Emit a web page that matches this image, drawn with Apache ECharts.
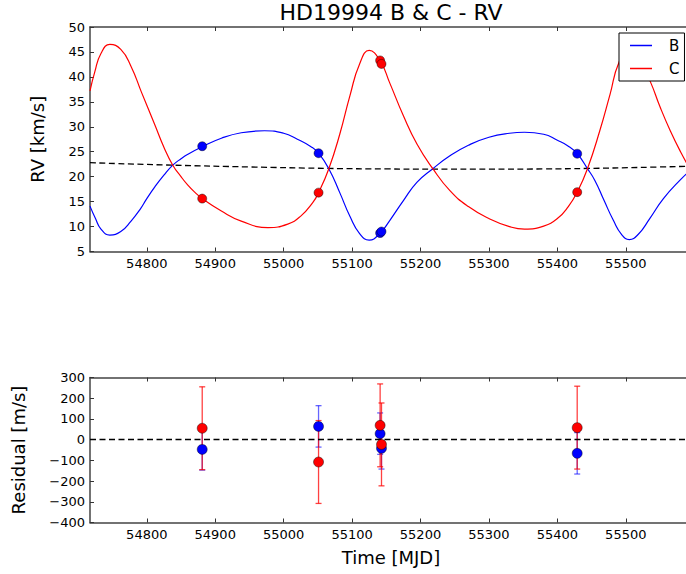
<!DOCTYPE html>
<html><head><meta charset="utf-8">
<script src="https://cdn.jsdelivr.net/npm/echarts@6/dist/echarts.min.js"></script>
<style>html,body{margin:0;padding:0;background:#fff}#c{width:686px;height:574px}</style>
</head><body><div id="c"></div>
<script>
// ---- data ----
const titleText = 'HD19994 B & C - RV';
const xTicks = [54800, 54900, 55000, 55100, 55200, 55300, 55400, 55500];
const xRange = [54717, 55588];

const modelTimeB = [54717,54725,54733,54746,54762,54777,54790,54800,54812,54825,54838,54850,54860,54881,54909,54938,54972,55000,55020,55040,55051,55066,55082,55097,55111,55125,55141,55155,55175,55195,55218,55243,55270,55300,55330,55352,55380,55400,55415,55429,55444,55455,55468,55482,55494,55505,55518,55535,55555,55580,55597];
const modelRvB   = [14.1,11.6,9.5,8.3,9.0,11.1,13.4,15.6,18.0,20.3,22.3,23.6,24.5,26.0,27.7,28.8,29.2,28.7,27.5,26.0,24.7,21.6,16.8,12.0,8.6,7.3,8.7,11.2,15.2,18.9,21.6,24.2,26.3,27.9,28.7,28.9,28.5,27.3,26.2,24.6,21.6,19.2,15.3,11.2,8.4,7.4,8.4,11.6,15.6,19.4,21.6];

const modelTimeC = [54717,54724,54733,54746,54762,54777,54792,54812,54825,54838,54850,54860,54870,54881,54909,54938,54977,55006,55025,55043,55051,55066,55082,55097,55111,55125,55141,55155,55175,55195,55218,55243,55270,55300,55330,55352,55380,55400,55416,55429,55444,55462,55477,55490,55505,55520,55536,55550,55565,55580,55597];
const modelRvC   = [37.2,41.0,44.7,46.5,45.5,42.1,37.0,30.3,25.9,22.3,20.0,18.3,16.9,15.6,13.1,11.1,9.8,10.5,12.1,14.9,16.8,21.6,28.5,36.3,42.6,45.3,43.2,38.8,32.2,26.5,21.6,17.2,14.0,11.6,10.0,9.5,10.1,11.6,14.0,16.9,21.6,29.2,36.5,42.9,45.5,43.4,39.0,34.0,29.2,25.0,20.8];

const trendTime = [54717,54838,54950,55066,55150,55218,55300,55380,55444,55520,55597];
const trendRv   = [22.8,22.3,21.95,21.65,21.55,21.5,21.5,21.55,21.65,21.85,22.1];

const obsTime = [54881, 55051, 55141, 55143, 55429];
const obsRvB  = [26.1, 24.7, 8.7, 9.0, 24.6];
const obsRvC  = [15.6, 16.8, 43.3, 42.6, 16.9];
const resB    = [-47, 64, 29, -42, -66];
const resC    = [55, -108, 69, -23, 58];
const errB    = [100, 100, 100, 100, 100];
const errC    = [200, 200, 200, 200, 200];

// ---- chart ----
const FONT = 'DejaVu Sans';
const BLUE = '#0000ff', RED = '#ff0000';
const FRAME = { color: '#444', width: 1.5 };
const zip = (a, b) => a.map((v, i) => [v, b[i]]);
const fmtMinus = v => (v < 0 ? '\u2212' + Math.abs(v) : String(v));

function xAxisPair(gi, nameBottom, nameTop) {
  const common = {
    type: 'value', gridIndex: gi, min: xRange[0], max: xRange[1],
    axisLine: { show: true, onZero: false, lineStyle: FRAME }, splitLine: { show: false },
    axisTick: { show: true, inside: true, length: 4, customValues: xTicks, lineStyle: { color: '#333', width: 1 } }
  };
  return [
    Object.assign({}, common, {
      position: 'bottom',
      axisLabel: { customValues: xTicks, fontSize: 13, fontFamily: FONT, color: '#000', margin: 5, formatter: v => String(v) },
      name: nameBottom || '', nameLocation: 'middle', nameGap: 26,
      nameTextStyle: { fontSize: 18, fontFamily: FONT, color: '#000', padding: [0, 0, 0, 6] }
    }),
    Object.assign({}, common, {
      position: 'top',
      axisLabel: { show: false },
      name: nameTop || '', nameLocation: 'middle', nameGap: 4,
      nameTextStyle: { fontSize: 22, fontFamily: FONT, color: '#000', padding: [0, 0, 0, 6] }
    })
  ];
}

function errSeries(xs, ys, es, color, xi, yi, z) {
  return {
    type: 'custom', xAxisIndex: xi, yAxisIndex: yi, z: z, silent: true,
    data: xs.map((x, i) => [x, ys[i] - es[i], ys[i] + es[i]]),
    encode: { x: 0, y: [1, 2] },
    renderItem: function (params, api) {
      const lo = api.coord([api.value(0), api.value(1)]);
      const hi = api.coord([api.value(0), api.value(2)]);
      const w = 3;
      const st = { stroke: color, lineWidth: 1.3 };
      return {
        type: 'group', children: [
          { type: 'line', shape: { x1: lo[0], y1: lo[1], x2: hi[0], y2: hi[1] }, style: st },
          { type: 'line', shape: { x1: lo[0] - w, y1: lo[1], x2: lo[0] + w, y2: lo[1] }, style: st },
          { type: 'line', shape: { x1: hi[0] - w, y1: hi[1], x2: hi[0] + w, y2: hi[1] }, style: st }
        ]
      };
    }
  };
}

const yCommon = {
  type: 'value', axisLine: { show: true, lineStyle: FRAME }, splitLine: { show: false },
  axisTick: { show: true, inside: true, length: 4, lineStyle: { color: '#333', width: 1 } },
  nameLocation: 'middle', nameTextStyle: { fontSize: 18, fontFamily: FONT, color: '#000' }
};

const chart = echarts.init(document.getElementById('c'), null, { renderer: 'svg' });
chart.setOption({
  animation: false,
  backgroundColor: '#fff',
  grid: [
    { left: 90, top: 26, right: 0, height: 225.5 },
    { left: 90, top: 377.5, right: 0, height: 145 }
  ],
  xAxis: [].concat(xAxisPair(0, '', titleText), xAxisPair(1, 'Time [MJD]', '')),
  yAxis: [
    Object.assign({}, yCommon, {
      gridIndex: 0, min: 5, max: 50, interval: 5, name: 'RV [km/s]', nameGap: 44,
      axisLabel: { fontSize: 13, fontFamily: FONT, color: '#000', margin: 5 }
    }),
    Object.assign({}, yCommon, {
      gridIndex: 1, min: -400, max: 300, interval: 100, name: 'Residual [m/s]', nameGap: 63,
      axisLabel: { fontSize: 13, fontFamily: FONT, color: '#000', margin: 5, formatter: fmtMinus }
    })
  ],
  legend: {
    data: [{ name: 'B', icon: 'rect' }, { name: 'C', icon: 'rect' }],
    orient: 'vertical', left: 619, top: 33,
    itemWidth: 22, itemHeight: 1.5, itemGap: 8,
    padding: [5, 5, 5, 11],
    borderColor: '#000', borderWidth: 1, backgroundColor: '#fff',
    selectedMode: false,
    textStyle: { fontSize: 15, fontFamily: FONT, color: '#000', padding: [0, 0, 0, 12] }
  },
  series: [
    { name: 'trend', type: 'line', xAxisIndex: 0, yAxisIndex: 0, data: zip(trendTime, trendRv), smooth: 0.4, showSymbol: false, silent: true,
      lineStyle: { color: '#000', width: 1.3, type: [6, 3.5] }, z: 2 },
    { name: 'B', type: 'line', xAxisIndex: 0, yAxisIndex: 0, data: zip(modelTimeB, modelRvB), smooth: 0.5, showSymbol: false,
      color: BLUE, lineStyle: { color: BLUE, width: 1.2 }, z: 3 },
    { name: 'C', type: 'line', xAxisIndex: 0, yAxisIndex: 0, data: zip(modelTimeC, modelRvC), smooth: 0.5, showSymbol: false,
      color: RED, lineStyle: { color: RED, width: 1.2 }, z: 3 },
    { name: 'B obs', type: 'scatter', xAxisIndex: 0, yAxisIndex: 0, data: zip(obsTime, obsRvB), symbolSize: 9,
      itemStyle: { color: BLUE, borderColor: 'rgba(0,0,0,0.55)', borderWidth: 0.8, opacity: 1 }, z: 4 },
    { name: 'C obs', type: 'scatter', xAxisIndex: 0, yAxisIndex: 0, data: zip(obsTime, obsRvC), symbolSize: 9,
      itemStyle: { color: RED, borderColor: 'rgba(0,0,0,0.55)', borderWidth: 0.8, opacity: 1 }, z: 4 },

    errSeries(obsTime, resB, errB, 'rgba(0,0,255,0.6)', 2, 1, 2),
    errSeries(obsTime, resC, errC, 'rgba(255,0,0,0.75)', 2, 1, 2),
    { name: 'B res', type: 'scatter', xAxisIndex: 2, yAxisIndex: 1, data: zip(obsTime, resB), symbolSize: 10,
      itemStyle: { color: BLUE, borderColor: 'rgba(0,0,0,0.55)', borderWidth: 0.8, opacity: 1 }, z: 4,
      markLine: { silent: true, symbol: 'none', label: { show: false },
        lineStyle: { color: '#000', width: 1.3, type: [6, 3.5] }, data: [{ yAxis: 0 }] } },
    { name: 'C res', type: 'scatter', xAxisIndex: 2, yAxisIndex: 1, data: zip(obsTime, resC), symbolSize: 10,
      itemStyle: { color: RED, borderColor: 'rgba(0,0,0,0.55)', borderWidth: 0.8, opacity: 1 }, z: 5 }
  ]
});
</script>
</body></html>
